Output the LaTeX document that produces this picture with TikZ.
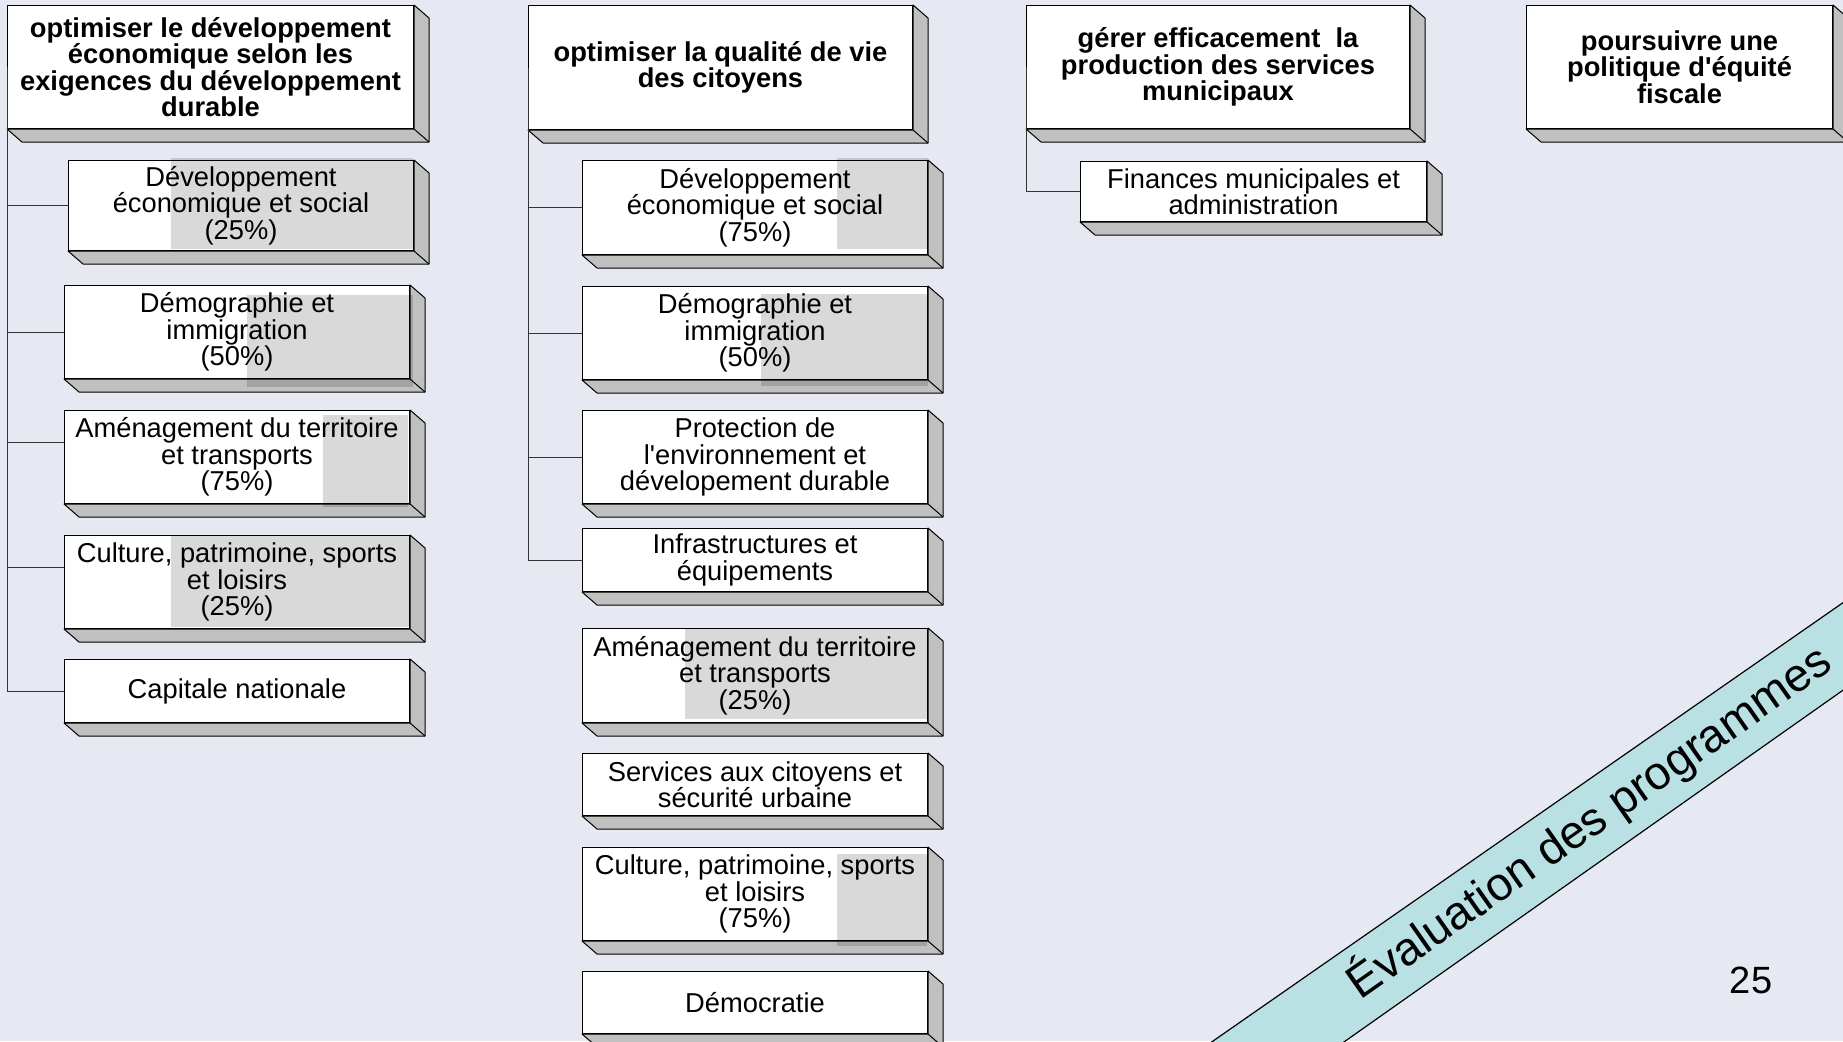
\documentclass[tikz,border=0pt]{standalone}
\usepackage{fontspec}
\setmainfont{Liberation Sans}
\usepackage{xcolor}
\definecolor{bgcol}{HTML}{E6E9F2}
\definecolor{facecol}{HTML}{C0C0C0}
\definecolor{bandcol}{HTML}{B9E0E3}
\tikzset{
    goal/.style={draw, fill=white, line width=1pt, anchor=north west, inner sep=0pt,
        align=center, font=\fontsize{27.3}{26.3}\selectfont\bfseries},
    prog/.style={draw, fill=white, line width=1pt, anchor=north west, inner sep=0pt,
        align=center, minimum width=345pt, font=\fontsize{27.3}{26.5}\selectfont},
    face/.style={fill=facecol, draw=black, line width=1pt, line join=round},
    greypart/.style={fill=black, fill opacity=0.15},
    link/.style={draw=black!80, line width=1pt}
}

\begin{document}
\begin{tikzpicture}[x=1pt,y=-1pt]
    \useasboundingbox (0,0) rectangle (1843,1041);
    \clip (0,0) rectangle (1843,1041);
    \fill[bgcol] (0,0) rectangle (1843,1041);

    \coordinate (bu1) at (1157,1080);
    \coordinate (bu2) at (1900,563);
    \coordinate (bl1) at (1290,1080);
    \coordinate (bl2) at (1900,650);
    \fill[bandcol] (bu1) -- (bu2) -- (bl2) -- (bl1) -- cycle;
    \draw[line width=1.2pt] (bu1) -- (bu2) (bl1) -- (bl2);
    \node[rotate=35, font=\fontsize{46.5}{48}\selectfont] (bandtxt) at (1589,822) {Évaluation des programmes};
    \node[font=\fontsize{38}{40}\selectfont] (pnum) at (1751,980) {25};

    \node[goal, minimum width=406pt, minimum height=123pt] (g1) at (7,5)
        {optimiser le développement\\économique selon les\\exigences du développement\\durable};
    \node[prog, minimum height=90pt] (c11) at (68,160) {Développement\\économique et social\\(25\%)};
    \node[prog, minimum height=93pt] (c12) at (64,285) {Démographie et\\immigration\\(50\%)};
    \node[prog, minimum height=93pt] (c13) at (64,410) {Aménagement du territoire\\et transports\\(75\%)};
    \node[prog, minimum height=93pt] (c14) at (64,535) {Culture, patrimoine, sports\\et loisirs\\(25\%)};
    \node[prog, minimum height=63pt] (c15) at (64,659) {Capitale nationale};

    \node[goal, minimum width=384pt, minimum height=124pt] (g2) at (528,5)
        {optimiser la qualité de vie\\des citoyens};
    \node[prog, minimum height=94pt] (c21) at (582,160) {Développement\\économique et social\\(75\%)};
    \node[prog, minimum height=93pt] (c22) at (582,286) {Démographie et\\immigration\\(50\%)};
    \node[prog, minimum height=93pt] (c23) at (582,410)
        {Protection de\\l\textquotesingle environnement et\\dévelopement durable};
    \node[prog, minimum height=63pt] (c24) at (582,528) {Infrastructures et\\équipements};
    \node[prog, minimum height=94pt] (c25) at (582,628) {Aménagement du territoire\\et transports\\(25\%)};
    \node[prog, minimum height=62pt] (c26) at (582,753) {Services aux citoyens et\\sécurité urbaine};
    \node[prog, minimum height=93pt] (c27) at (582,847) {Culture, patrimoine, sports\\et loisirs\\(75\%)};
    \node[prog, minimum height=62pt] (c28) at (582,971) {Démocratie};

    \node[goal, minimum width=383pt, minimum height=123pt] (g3) at (1026,5)
        {gérer efficacement\ \ la\\production des services\\municipaux};
    \node[prog, minimum width=346pt, minimum height=60pt] (c31) at (1080,161)
        {Finances municipales et\\administration};

    \node[goal, minimum width=306pt, minimum height=123pt] (g4) at (1526,5)
        {poursuivre une\\politique d\textquotesingle équité\\fiscale};

    \foreach \n in {g1,c11,c12,c13,c14,c15,g2,c21,c22,c23,c24,c25,c26,c27,c28,g3,c31,g4} {
        \filldraw[face] (\n.north east) -- ++(15,13) -- ([shift={(15,13)}]\n.south east)
            -- ([shift={(15,13)}]\n.south west) -- (\n.south west) -- (\n.south east) -- cycle;
        \draw[face] (\n.south east) -- ++(15,13);
    }

    \fill[greypart] (171,158) rectangle (413,249);
    \fill[greypart] (247,295) rectangle (413,387);
    \fill[greypart] (323,415) rectangle (408,507);
    \fill[greypart] (171,536) rectangle (409,627);
    \fill[greypart] (837,158) rectangle (928,249);
    \fill[greypart] (761,294) rectangle (928,386);
    \fill[greypart] (685,629) rectangle (927,719);
    \fill[greypart] (837,854) rectangle (927,946);

    \foreach \c in {c11,c12,c15} \draw[link] (g1.west) |- (\c.west);
    \foreach \c in {c13,c14} \draw[link] (g1.west) |- ([yshift=15pt]\c.west);
    \foreach \c in {c21,c22,c23,c24} \draw[link] (g2.west) |- (\c.west);
    \draw[link] (g3.west) |- (c31.west);
\end{tikzpicture}
\end{document}
